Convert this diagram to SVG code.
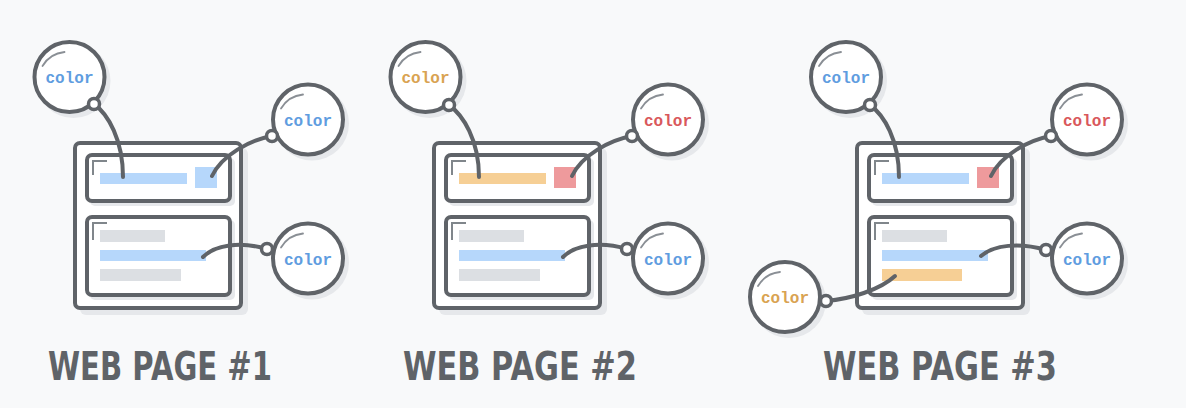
<svg xmlns="http://www.w3.org/2000/svg" width="1186" height="408" viewBox="0 0 1186 408">
<style>
.sh{fill:#e6e8eb}
.box{fill:#fff;stroke:#5f6368;stroke-width:4}
.mark{fill:none;stroke:#80868b;stroke-width:2}
.bl{fill:#b6d7fb}.or{fill:#f6cf95}.rd{fill:#ee9a9c}.gr{fill:#dcdfe3}
.bub{fill:#fff;stroke:#5f6368;stroke-width:4}
.hl{fill:none;stroke:#8a8f95;stroke-width:1.8;stroke-linecap:round}
.dot{fill:#fff;stroke:#5f6368;stroke-width:3.5}
.con{fill:none;stroke:#5f6368;stroke-width:4;stroke-linecap:round}
.lbl{font-family:"Liberation Mono","Courier New",monospace;font-weight:bold;font-size:16px;text-anchor:middle}
.tb{fill:#5f9de0}.to{fill:#d9a352}.tr{fill:#d9585c}
.title{font-family:"DejaVu Sans","Liberation Sans",sans-serif;font-weight:bold;font-size:39px;fill:#5f6368}
</style>
<defs>
<g id="page">
<rect class="sh" x="80" y="148" width="168" height="167" rx="6"/>
<rect class="box" x="75" y="143" width="166" height="165" rx="5"/>
<rect class="sh" x="90" y="158" width="145" height="48" rx="5"/>
<rect class="box" x="87" y="155" width="143" height="46" rx="5"/>
<rect class="sh" x="90" y="220" width="145" height="80" rx="5"/>
<rect class="box" x="87" y="217" width="143" height="78" rx="5"/>
<path class="mark" d="M93,175V161H107"/>
<path class="mark" d="M93,240V223H107"/>
<rect class="gr" x="100" y="230" width="65" height="12"/>
</g>
<g id="bubble">
<circle class="sh" cx="4" cy="4" r="37"/>
<circle class="bub" cx="0" cy="0" r="35"/>
<path class="hl" d="M-27,-11A29,29 0 0 1 -5,-25"/>
</g>
</defs>
<rect width="1186" height="408" fill="#f8f9fa"/>

<g id="page1">
<use href="#page"/>
<rect class="bl" x="100" y="173" width="87" height="11"/>
<rect class="bl" x="195" y="167" width="22" height="21"/>
<rect class="bl" x="100" y="250" width="106" height="11"/>
<rect class="gr" x="100" y="269" width="81" height="12"/>
</g>
<g id="page2" transform="translate(359,0)">
<use href="#page"/>
<rect class="or" x="100" y="173" width="87" height="11"/>
<rect class="rd" x="195" y="167" width="22" height="21"/>
<rect class="bl" x="100" y="250" width="106" height="11"/>
<rect class="gr" x="100" y="269" width="81" height="12"/>
</g>
<g id="page3" transform="translate(782,0)">
<use href="#page"/>
<rect class="bl" x="100" y="173" width="87" height="11"/>
<rect class="rd" x="195" y="167" width="22" height="21"/>
<rect class="bl" x="100" y="250" width="106" height="11"/>
<rect class="or" x="100" y="269" width="80" height="12"/>
</g>

<g id="bubbles1">
<g id="b1a" transform="translate(69.5,77)"><use href="#bubble"/><text class="lbl tb" x="0" y="6">color</text></g>
<g id="b1b" transform="translate(308,119.5)"><use href="#bubble"/><text class="lbl tb" x="0" y="6">color</text></g>
<g id="b1c" transform="translate(308,258.5)"><use href="#bubble"/><text class="lbl tb" x="0" y="6">color</text></g>
</g>
<g id="bubbles2">
<g id="b2a" transform="translate(425.5,77)"><use href="#bubble"/><text class="lbl to" x="0" y="6">color</text></g>
<g id="b2b" transform="translate(668,119.5)"><use href="#bubble"/><text class="lbl tr" x="0" y="6">color</text></g>
<g id="b2c" transform="translate(668,258.5)"><use href="#bubble"/><text class="lbl tb" x="0" y="6">color</text></g>
</g>
<g id="bubbles3">
<g id="b3a" transform="translate(846,77)"><use href="#bubble"/><text class="lbl tb" x="0" y="6">color</text></g>
<g id="b3b" transform="translate(1087,119.5)"><use href="#bubble"/><text class="lbl tr" x="0" y="6">color</text></g>
<g id="b3c" transform="translate(1087,258.5)"><use href="#bubble"/><text class="lbl tb" x="0" y="6">color</text></g>
<g id="b3d" transform="translate(785,297)"><use href="#bubble"/><text class="lbl to" x="0" y="6">color</text></g>
</g>

<g id="connectors">
<path class="con" d="M94,104C108,114 123,140 123,177"/>
<path class="con" d="M272,136C250,140 222,155 212,176"/>
<path class="con" d="M267,249C240,241 215,245 203,257"/>
<path class="con" d="M449,105C463,115 479,140 479,177"/>
<path class="con" d="M632,136C610,140 582,155 572,176"/>
<path class="con" d="M627,249C600,241 575,245 563,257"/>
<path class="con" d="M870,105C884,115 899,140 899,177"/>
<path class="con" d="M1051,136C1029,140 1001,155 991,176"/>
<path class="con" d="M1046,250C1019,242 994,245 981,256"/>
<path class="con" d="M826,301C850,299 880,290 895,276"/>
<circle class="dot" cx="94" cy="104" r="5.5"/>
<circle class="dot" cx="272" cy="136" r="5.5"/>
<circle class="dot" cx="267" cy="249" r="5.5"/>
<circle class="dot" cx="449" cy="105" r="5.5"/>
<circle class="dot" cx="632" cy="136" r="5.5"/>
<circle class="dot" cx="627" cy="249" r="5.5"/>
<circle class="dot" cx="870" cy="105" r="5.5"/>
<circle class="dot" cx="1051" cy="136" r="5.5"/>
<circle class="dot" cx="1046" cy="250" r="5.5"/>
<circle class="dot" cx="826" cy="301" r="5.5"/>
</g>

<g id="titles">
<text class="title" x="48" y="380" textLength="224" lengthAdjust="spacingAndGlyphs">WEB PAGE #1</text>
<text class="title" x="403" y="380" textLength="234" lengthAdjust="spacingAndGlyphs">WEB PAGE #2</text>
<text class="title" x="823" y="380" textLength="234" lengthAdjust="spacingAndGlyphs">WEB PAGE #3</text>
</g>
</svg>
